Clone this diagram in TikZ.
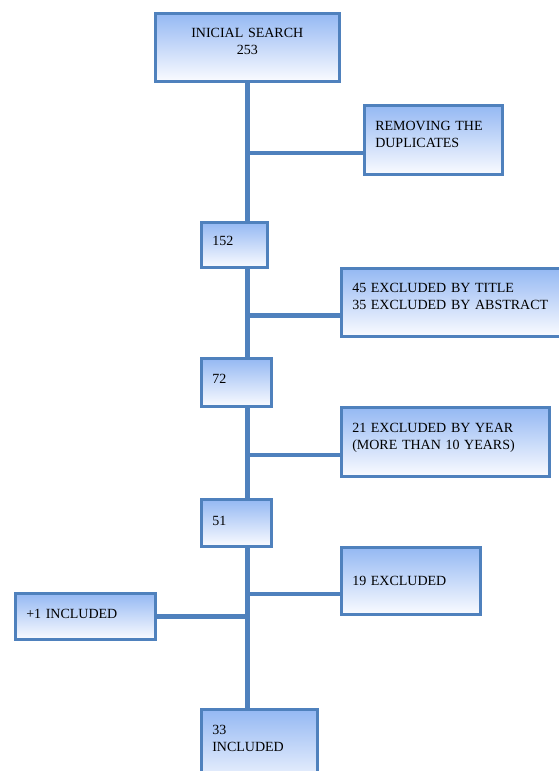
\documentclass[tikz,border=0pt]{standalone}
\usepackage{fontspec}
\setmainfont{Liberation Serif}
\usetikzlibrary{positioning,shadows}
\definecolor{boxline}{RGB}{79,129,189}
\definecolor{boxtop}{RGB}{148,184,243}
\definecolor{boxbot}{RGB}{250,251,255}
\tikzstyle{flowbox}=[rectangle,draw=boxline,line width=2.5pt,top color=boxtop,bottom color=boxbot,anchor=north west,align=left,inner xsep=11pt,font=\fontsize{14}{17.5}\selectfont,drop shadow={opacity=0.2,shadow xshift=1.5pt,shadow yshift=-1.5pt}]
\tikzstyle{trunkline}=[boxline,line width=5pt]
\tikzstyle{branchline}=[boxline,line width=4.5pt]
\tikzset{lift/.style={execute at end node={\par\vspace*{#1}}}}

\begin{document}
\begin{tikzpicture}[x=1pt,y=-1pt]
\useasboundingbox (0,0) rectangle (558,771);
\node[flowbox,align=center,lift=12pt,text width=162pt,minimum height=68pt] (search) at (154,12) {INICIAL SEARCH\\253};
\node[flowbox,lift=11pt,text width=116pt,minimum height=69pt] (dup) at (363,104) {REMOVING THE\\DUPLICATES};
\node[flowbox,lift=8pt,text width=44pt,minimum height=45pt] (n152) at (200,221) {152};
\node[flowbox,lift=12pt,text width=213pt,minimum height=68pt] (title) at (340,267) {45 EXCLUDED BY TITLE\\35 EXCLUDED BY ABSTRACT};
\node[flowbox,lift=6pt,text width=48pt,minimum height=48pt] (n72) at (200,357) {72};
\node[flowbox,lift=8pt,text width=186pt,minimum height=69pt] (year) at (340,406) {21 EXCLUDED BY YEAR\\(MORE THAN 10 YEARS)};
\node[flowbox,lift=4pt,text width=48pt,minimum height=47pt] (n51) at (200,498) {51};
\node[flowbox,lift=-6pt,text width=117pt,minimum height=67pt] (ex19) at (340,546) {19 EXCLUDED};
\node[flowbox,lift=4pt,text width=118pt,minimum height=46pt] (plus) at (14,592) {+1 INCLUDED};
\node[flowbox,lift=24pt,text width=94pt,minimum height=82pt] (inc33) at (200,708) {33\\INCLUDED};
% trunk
\draw[trunkline] (search.south) -- (search.south |- n152.north);
\draw[trunkline] (search.south |- n152.south) -- (search.south |- n72.north);
\draw[trunkline] (search.south |- n72.south) -- (search.south |- n51.north);
\draw[trunkline] (search.south |- n51.south) -- (search.south |- inc33.north);
% branches
\coordinate (dupin) at ([yshift=-13pt]dup.west);
\coordinate (titlein) at ([yshift=-13pt]title.west);
\coordinate (yearin) at ([yshift=-13pt]year.west);
\coordinate (ex19in) at ([yshift=-13pt]ex19.west);
\draw[branchline] (dupin) -- (dupin -| search.south);
\draw[branchline] (titlein) -- (titlein -| search.south);
\draw[branchline] (yearin) -- (yearin -| search.south);
\draw[branchline] (ex19in) -- (ex19in -| search.south);
\draw[branchline] (plus.east) -- (plus.east -| search.south);
\end{tikzpicture}
\end{document}
